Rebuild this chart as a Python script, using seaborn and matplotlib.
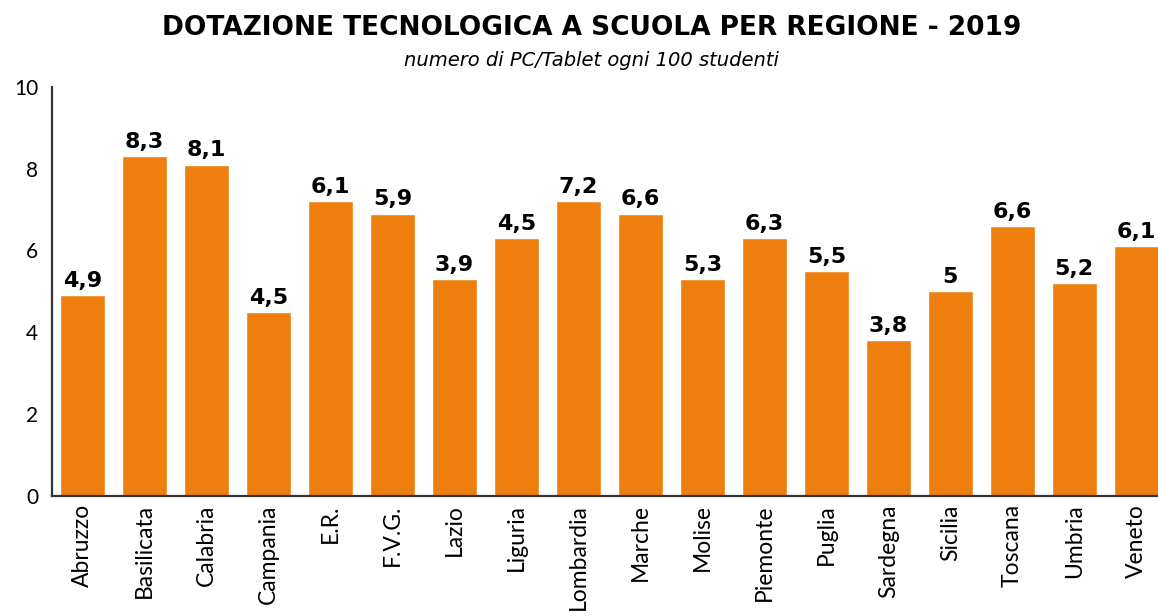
import matplotlib
matplotlib.use("Agg")
import matplotlib.pyplot as plt
import seaborn as sns
import pandas as pd

# dati
regioni = ["Abruzzo", "Basilicata", "Calabria", "Campania", "E.R.", "F.V.G.", "Lazio",
           "Liguria", "Lombardia", "Marche", "Molise", "Piemonte", "Puglia", "Sardegna",
           "Sicilia", "Toscana", "Umbria", "Veneto"]
altezze = [4.9, 8.3, 8.1, 4.5, 7.2, 6.9, 5.3, 6.3, 7.2, 6.9, 5.3, 6.3, 5.5, 3.8, 5.0, 6.6, 5.2, 6.1]
etichette = ["4,9", "8,3", "8,1", "4,5", "6,1", "5,9", "3,9", "4,5", "7,2", "6,6",
             "5,3", "6,3", "5,5", "3,8", "5", "6,6", "5,2", "6,1"]
y_ticks = [0, 2, 4, 6, 8, 10]

df = pd.DataFrame({"regione": regioni, "valore": altezze})

sns.set_style("white")
plt.rcParams["font.family"] = ["Lato", "DejaVu Sans"]
plt.rcParams["text.color"] = "black"
plt.rcParams["xtick.color"] = "black"
plt.rcParams["ytick.color"] = "black"

fig = plt.figure(figsize=(11.58, 6.16), dpi=100)
ax = fig.add_axes([0.0449, 0.195, 0.9551, 0.664])

sns.barplot(data=df, x="regione", y="valore", color="#EE7F0F", saturation=1,
            width=0.73, ax=ax)
ax.bar_label(ax.containers[0], labels=etichette, padding=3, color="black",
             fontsize=16, fontweight="bold", family=["DejaVu Sans"])

ax.set_xlim(-0.49, 17.35)
ax.set_ylim(0, 10)
ax.set_yticks(y_ticks)
ax.set_xlabel("")
ax.set_ylabel("")
ax.set_axisbelow(True)

sns.despine(ax=ax, top=True, right=True)
for s in ["left", "bottom"]:
    ax.spines[s].set_color("#333333")
    ax.spines[s].set_linewidth(1.6)

ax.tick_params(axis="y", direction="in", length=20, width=1.6, color="#333333",
               labelsize=15, pad=10)
ax.tick_params(axis="x", which="major", length=0, labelsize=16.5, pad=6,
               labelrotation=90)
ax.set_xticks([i + 0.5 for i in range(len(regioni) - 1)], minor=True)
ax.tick_params(axis="x", which="minor", direction="in", length=6, width=1.4,
               color="#333333")
for lab in ax.get_yticklabels():
    lab.set_horizontalalignment("right")

fig.text(0.511, 0.955, "DOTAZIONE TECNOLOGICA A SCUOLA PER REGIONE - 2019",
         ha="center", va="center", fontsize=19, fontweight="bold",
         family=["DejaVu Sans"])
fig.text(0.511, 0.902, "numero di PC/Tablet ogni 100 studenti",
         ha="center", va="center", fontsize=14, style="italic",
         family=["DejaVu Sans"])

fig.savefig("out.png", dpi=100)
